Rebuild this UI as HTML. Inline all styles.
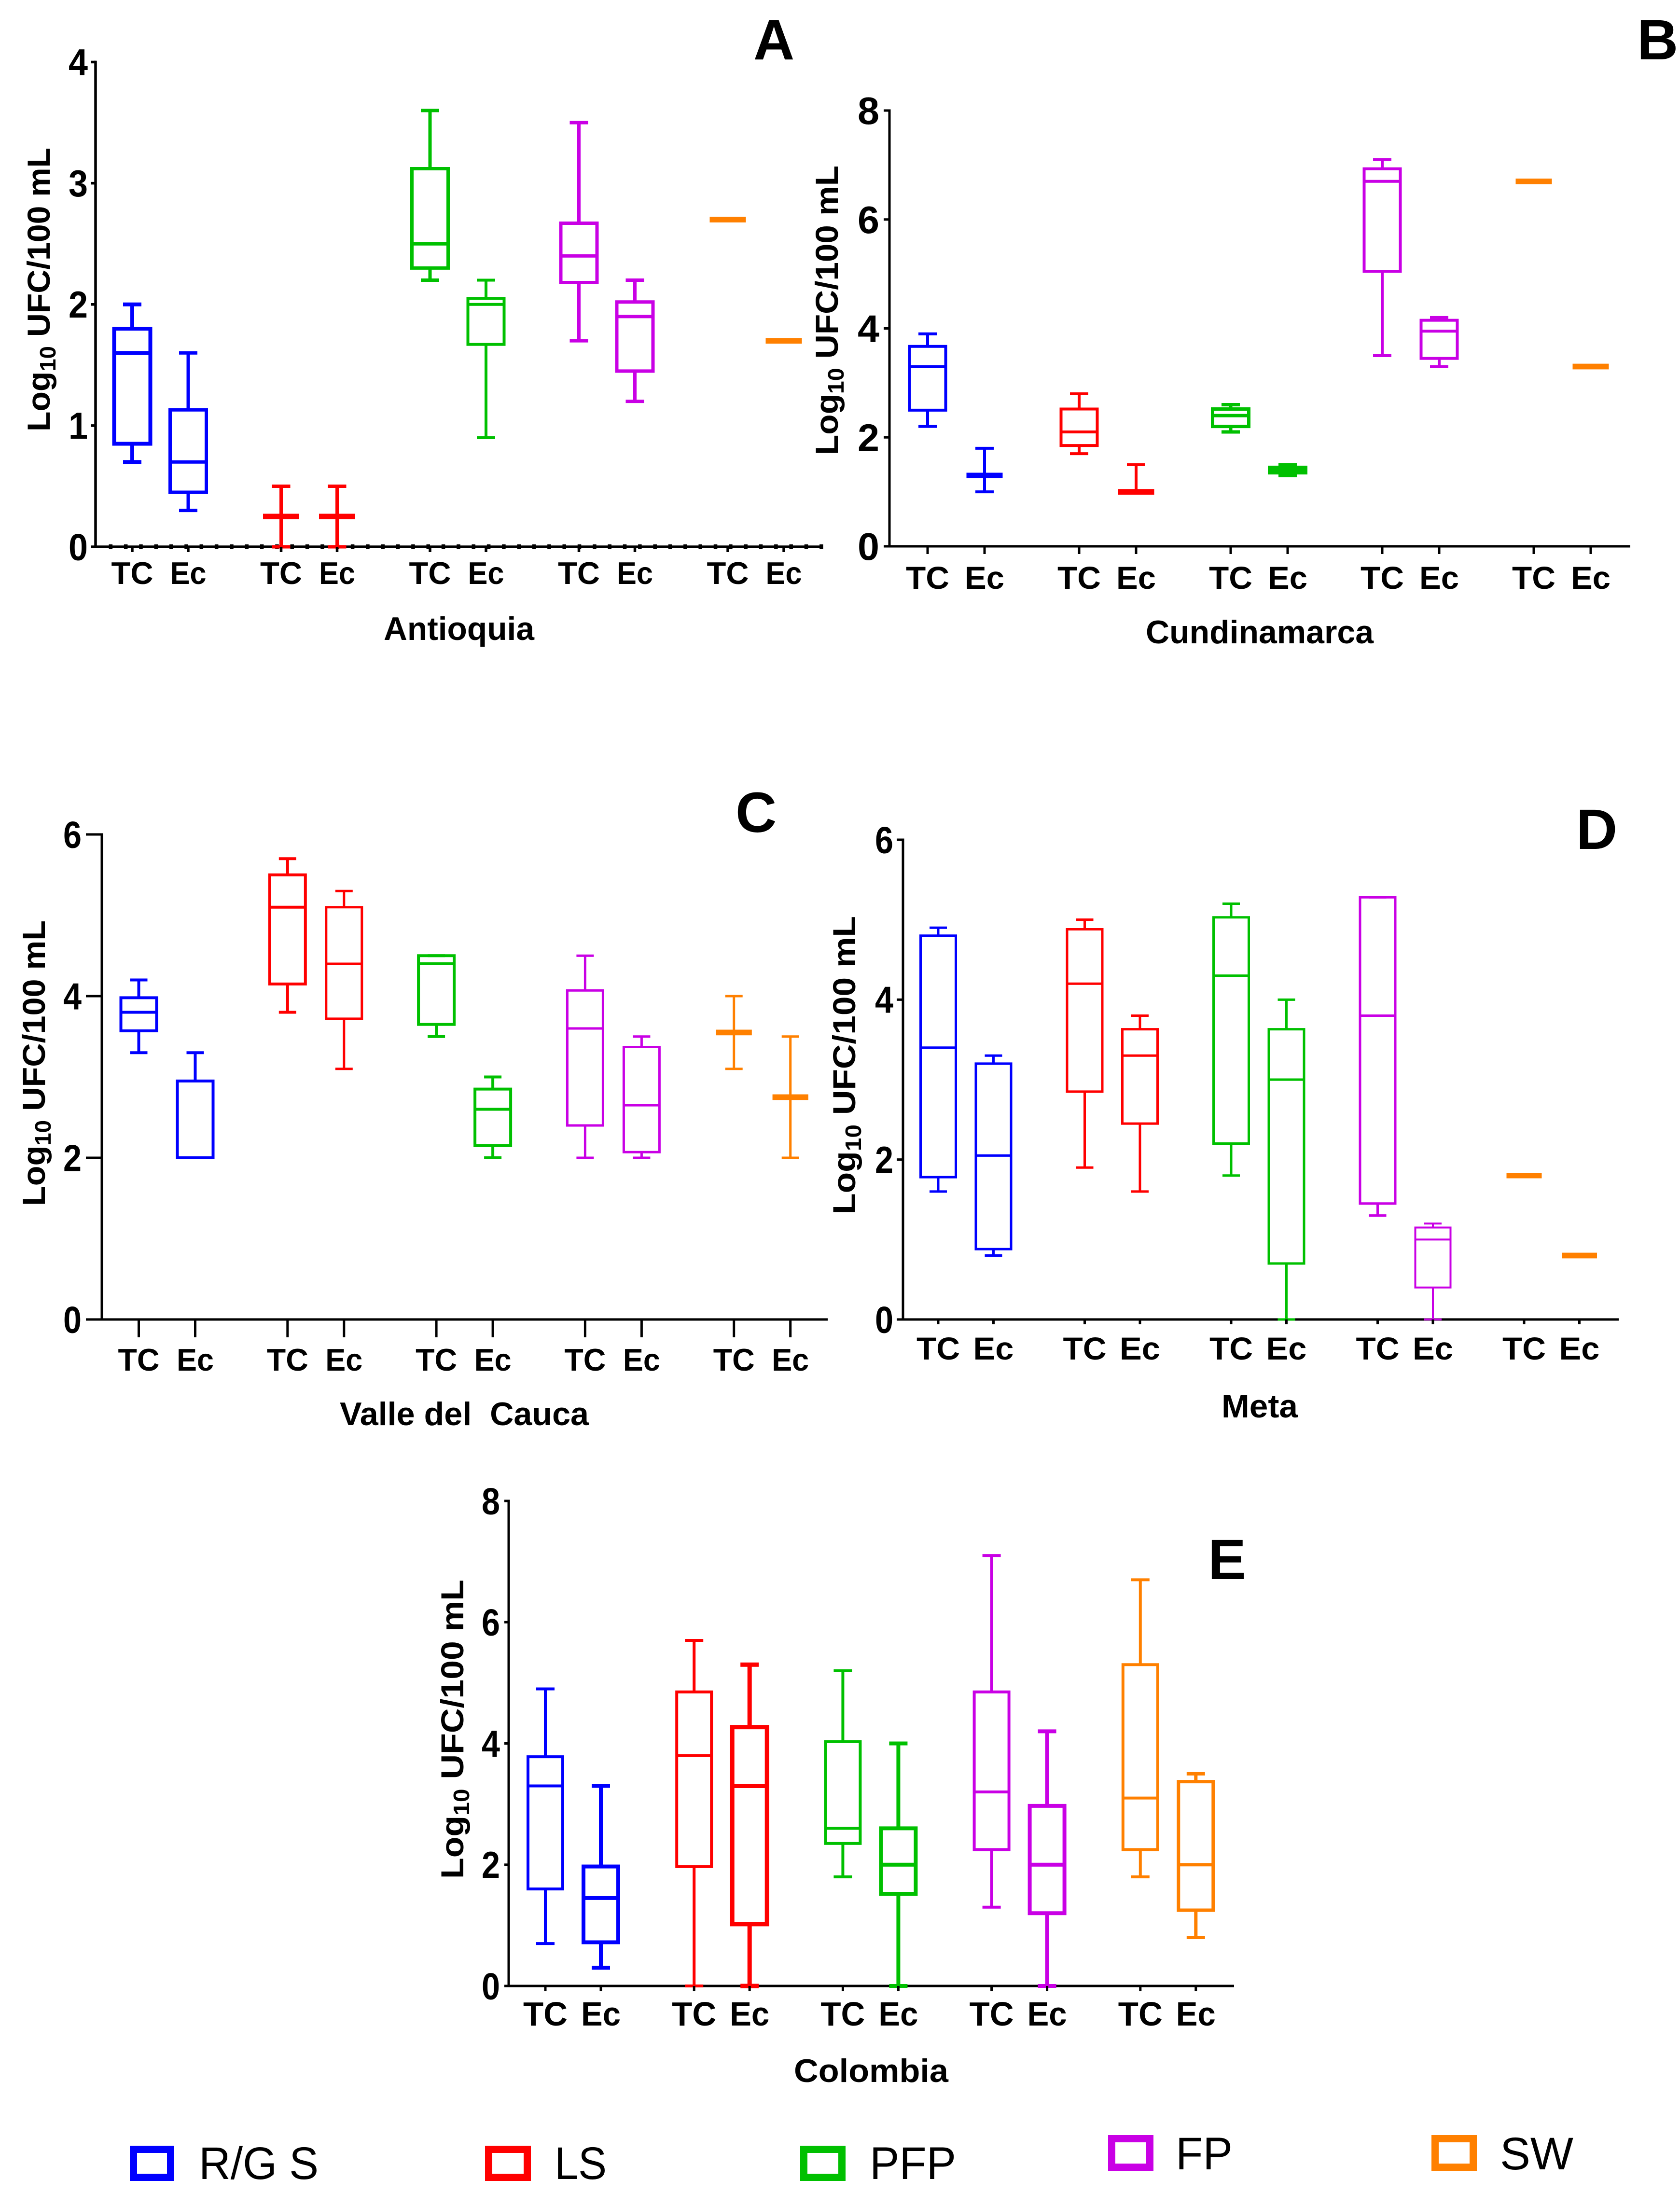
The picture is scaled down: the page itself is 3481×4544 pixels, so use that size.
<!DOCTYPE html>
<html lang="es">
<head>
<meta charset="utf-8">
<title>Log10 UFC/100 mL by region</title>
<style>
html,body{margin:0;padding:0;background:#fff;width:3481px;height:4544px;overflow:hidden}
svg{display:block}
text{font-family:"Liberation Sans",Arial,sans-serif}
.b{font-weight:bold;fill:#000}
.leg{font-weight:normal;fill:#000;font-size:95px}
.letter{font-weight:bold;font-size:118px;fill:#000}
.ytitle{font-weight:bold;font-size:66px;fill:#000}
.xtitle{font-weight:bold;font-size:68px;fill:#000;text-anchor:middle}
</style>
</head>
<body>
<svg id="figure" xmlns="http://www.w3.org/2000/svg" width="3481" height="4544" viewBox="0 0 3481 4544">
  <rect x="0" y="0" width="3481" height="4544" fill="#fff"/>

  <text class="letter" x="1561" y="123">A</text>
  <text class="letter" x="3392" y="123">B</text>
  <text class="letter" x="1524" y="1724">C</text>
  <text class="letter" x="3266" y="1759">D</text>
  <text class="letter" x="2503" y="3272">E</text>

  <text class="ytitle" transform="translate(103,600) rotate(-90)" text-anchor="middle" textLength="588" lengthAdjust="spacingAndGlyphs">Log<tspan font-size="46" dy="12">10</tspan><tspan dy="-12"> UFC/100 mL</tspan></text>
  <text class="ytitle" transform="translate(1736,643) rotate(-90)" text-anchor="middle" textLength="600" lengthAdjust="spacingAndGlyphs">Log<tspan font-size="46" dy="12">10</tspan><tspan dy="-12"> UFC/100 mL</tspan></text>
  <text class="ytitle" transform="translate(93,2203) rotate(-90)" text-anchor="middle" textLength="592" lengthAdjust="spacingAndGlyphs">Log<tspan font-size="46" dy="12">10</tspan><tspan dy="-12"> UFC/100 mL</tspan></text>
  <text class="ytitle" transform="translate(1772,2207) rotate(-90)" text-anchor="middle" textLength="618" lengthAdjust="spacingAndGlyphs">Log<tspan font-size="46" dy="12">10</tspan><tspan dy="-12"> UFC/100 mL</tspan></text>
  <text class="ytitle" transform="translate(960,3583) rotate(-90)" text-anchor="middle" textLength="620" lengthAdjust="spacingAndGlyphs">Log<tspan font-size="46" dy="12">10</tspan><tspan dy="-12"> UFC/100 mL</tspan></text>

  <text class="xtitle" x="951" y="1326" textLength="312" lengthAdjust="spacingAndGlyphs">Antioquia</text>
  <text class="xtitle" x="2610" y="1333" textLength="472" lengthAdjust="spacingAndGlyphs">Cundinamarca</text>
  <text class="xtitle" x="962" y="2953" textLength="516" lengthAdjust="spacingAndGlyphs" xml:space="preserve">Valle del  Cauca</text>
  <text class="xtitle" x="2610" y="2937" textLength="158" lengthAdjust="spacingAndGlyphs">Meta</text>
  <text class="xtitle" x="1805" y="4314" textLength="320" lengthAdjust="spacingAndGlyphs">Colombia</text>

  <g>
    <rect x="276.5" y="4453.5" width="77" height="58" fill="none" stroke="#0000ff" stroke-width="15"/>
    <text class="leg" x="412" y="4515" textLength="248" lengthAdjust="spacingAndGlyphs">R/G S</text>
    <rect x="1012.5" y="4453.5" width="80" height="58" fill="none" stroke="#ff0000" stroke-width="15"/>
    <text class="leg" x="1149" y="4515" textLength="108" lengthAdjust="spacingAndGlyphs">LS</text>
    <rect x="1665.5" y="4453.5" width="79" height="58" fill="none" stroke="#00c000" stroke-width="15"/>
    <text class="leg" x="1802" y="4515" textLength="179" lengthAdjust="spacingAndGlyphs">PFP</text>
    <rect x="2303.5" y="4431.5" width="79" height="59" fill="none" stroke="#c900e5" stroke-width="15"/>
    <text class="leg" x="2436" y="4495" textLength="118" lengthAdjust="spacingAndGlyphs">FP</text>
    <rect x="2973.5" y="4431.5" width="79" height="59" fill="none" stroke="#ff8000" stroke-width="15"/>
    <text class="leg" x="3108" y="4495" textLength="152" lengthAdjust="spacingAndGlyphs">SW</text>
  </g>
  <g id="charts"></g>
</svg>

<script>
// Order of every series array: R/G S TC, R/G S Ec, LS TC, LS Ec, PFP TC, PFP Ec, FP TC, FP Ec, SW TC, SW Ec
const categories = ['TC','Ec','TC','Ec','TC','Ec','TC','Ec','TC','Ec'];
const sourceNames = ['rgs','rgs','ls','ls','pfp','pfp','fp','fp','sw','sw'];

// Panel A - Antioquia
const antioquiaMin = [0.7,0.3,0,0,2.2,0.9,1.7,1.2,2.7,1.7];
const antioquiaQ1  = [0.85,0.45,0.25,0.25,2.3,1.67,2.18,1.45,2.7,1.7];
const antioquiaMed = [1.6,0.7,0.25,0.25,2.5,2.0,2.4,1.9,2.7,1.7];
const antioquiaQ3  = [1.8,1.13,0.25,0.25,3.12,2.05,2.67,2.02,2.7,1.7];
const antioquiaMax = [2.0,1.6,0.5,0.5,3.6,2.2,3.5,2.2,2.7,1.7];
const antioquiaTicks = [0,1,2,3,4];

// Panel B - Cundinamarca
const cundinamarcaMin = [2.2,1,1.7,1,2.1,1.3,3.5,3.3,6.7,3.3];
const cundinamarcaQ1  = [2.5,1.3,1.85,1,2.2,1.35,5.05,3.45,6.7,3.3];
const cundinamarcaMed = [3.3,1.3,2.1,1,2.4,1.4,6.7,3.95,6.7,3.3];
const cundinamarcaQ3  = [3.67,1.3,2.52,1,2.52,1.45,6.93,4.15,6.7,3.3];
const cundinamarcaMax = [3.9,1.8,2.8,1.5,2.6,1.5,7.1,4.2,6.7,3.3];
const cundinamarcaTicks = [0,2,4,6,8];

// Panel C - Valle del Cauca
const valleMin = [3.3,2,3.8,3.1,3.5,2,2,2,3.1,2];
const valleQ1  = [3.57,2,4.15,3.72,3.65,2.15,2.4,2.07,3.55,2.75];
const valleMed = [3.8,2,5.1,4.4,4.4,2.6,3.6,2.65,3.55,2.75];
const valleQ3  = [3.98,2.95,5.5,5.1,4.5,2.85,4.07,3.37,3.55,2.75];
const valleMax = [4.2,3.3,5.7,5.3,4.5,3,4.5,3.5,4,3.5];
const valleTicks = [0,2,4,6];

// Panel D - Meta
const metaMin = [1.6,0.8,1.9,1.6,1.8,0,1.3,0,1.8,0.8];
const metaQ1  = [1.78,0.88,2.85,2.45,2.2,0.7,1.45,0.4,1.8,0.8];
const metaMed = [3.4,2.05,4.2,3.3,4.3,3,3.8,1,1.8,0.8];
const metaQ3  = [4.8,3.2,4.88,3.63,5.03,3.63,5.28,1.15,1.8,0.8];
const metaMax = [4.9,3.3,5,3.8,5.2,4,5.28,1.2,1.8,0.8];
const metaTicks = [0,2,4,6];

// Panel E - Colombia
const colombiaMin = [0.7,0.3,0,0,1.8,0,1.3,0,1.8,0.8];
const colombiaQ1  = [1.6,0.72,1.97,1.02,2.35,1.52,2.25,1.2,2.25,1.25];
const colombiaMed = [3.3,1.45,3.8,3.3,2.6,2,3.2,2,3.1,2];
const colombiaQ3  = [3.78,1.97,4.85,4.27,4.03,2.6,4.85,2.97,5.3,3.37];
const colombiaMax = [4.9,3.3,5.7,5.3,5.2,4,7.1,4.2,6.7,3.5];
const colombiaTicks = [0,2,4,6,8];

const sourceColors = {rgs:'#0000ff',ls:'#ff0000',pfp:'#00c000',fp:'#c900e5',sw:'#ff8000'};
const NS = 'http://www.w3.org/2000/svg';
const chartsRoot = document.getElementById('charts');
const COLLAPSED_WIDTH = 11.5;

function addLine(parent,x1,y1,x2,y2,color,width){
  const l = document.createElementNS(NS,'line');
  l.setAttribute('x1',x1); l.setAttribute('y1',y1);
  l.setAttribute('x2',x2); l.setAttribute('y2',y2);
  l.setAttribute('stroke',color); l.setAttribute('stroke-width',width);
  parent.appendChild(l);
  return l;
}
function addLabel(parent,x,y,str,size,anchor,len){
  const t = document.createElementNS(NS,'text');
  t.setAttribute('x',x); t.setAttribute('y',y);
  t.setAttribute('class','b');
  t.setAttribute('font-size',size);
  t.setAttribute('text-anchor',anchor);
  t.setAttribute('textLength',len);
  t.setAttribute('lengthAdjust','spacingAndGlyphs');
  t.textContent = str;
  parent.appendChild(t);
  return t;
}

function drawPanel(cfg, yMax, yTicks, vMin, vQ1, vMed, vQ3, vMax){
  const g = document.createElementNS(NS,'g');
  
  
  chartsRoot.appendChild(g);

  const yScale = v => cfg.y0 - (v / yMax) * (cfg.y0 - cfg.yTop);
  const xScale = i => cfg.x0 + cfg.firstOffset + Math.floor(i/2)*cfg.groupStep + (i%2)*cfg.pairStep;

  // axes
  const yAxis = addLine(g,cfg.ax,cfg.yTop-cfg.axw/2,cfg.ax,cfg.y0+cfg.axw/2,'#000',cfg.axw);
  
  
  const xAxis = addLine(g,cfg.ax,cfg.y0,cfg.xEnd,cfg.y0,'#000',cfg.axw);
  
  

  // y ticks and labels
  yTicks.forEach(v => {
    const y = yScale(v);
    const tick = addLine(g,cfg.ax-cfg.ytl,y,cfg.ax,y,'#000',cfg.axw);
    
    
    const lab = addLabel(g,cfg.yLabelX,y+cfg.yFont*0.35,String(v),cfg.yFont,'end',cfg.yLabelW);
    
    
  });

  // minor tick dots along the x axis of panel A
  if(cfg.minorStep){
    for(let mx = cfg.ax + cfg.minorStep; mx < cfg.xEnd; mx += cfg.minorStep){
      const m = addLine(g,mx,cfg.y0-5,mx,cfg.y0+5,'#000',7.5);
      
      
    }
  }

  categories.forEach((cat,i) => {
    const x = xScale(i);
    const color = sourceColors[sourceNames[i]];
    const sw = cfg.strokes[i];
    const box = document.createElementNS(NS,'g');
    
    
    g.appendChild(box);

    const tick = addLine(g,x,cfg.y0,x,cfg.y0+cfg.xtl,'#000',cfg.axw);
    
    
    const lab = addLabel(g,x,cfg.xLabelY,cat,cfg.xFont,'middle',cat==='TC'?cfg.tcW:cfg.ecW);
    
    

    const yLo = yScale(vMin[i]), yHi = yScale(vMax[i]);
    const y1 = yScale(vQ1[i]), y3 = yScale(vQ3[i]), ym = yScale(vMed[i]);
    const hw = cfg.boxW/2, cap = cfg.capW/2;
    const collapsed = vQ1[i] === vQ3[i];
    const boxStroke = collapsed ? COLLAPSED_WIDTH : sw;

    if(vMax[i] !== vMin[i]){
      const w1 = addLine(box,x,yHi,x,y3,color,sw);
      
      
      const w2 = addLine(box,x,y1,x,yLo,color,sw);
      
      
      const c1 = addLine(box,x-cap,yHi,x+cap,yHi,color,sw);
      
      
      const c2 = addLine(box,x-cap,yLo,x+cap,yLo,color,sw);
      
      
    }
    const p = document.createElementNS(NS,'path');
    p.setAttribute('d',`M${x-hw} ${y3}H${x+hw}V${y1}H${x-hw}Z`);
    p.setAttribute('fill','none');
    p.setAttribute('stroke',color);
    p.setAttribute('stroke-width',boxStroke);
    
    
    box.appendChild(p);
    const med = addLine(box,x-hw,ym,x+hw,ym,color,boxStroke);
    
    
  });
}

drawPanel({id:'antioquia',ax:198,x0:198,xEnd:1704,y0:1133,yTop:128.5,firstOffset:76,groupStep:308.5,pairStep:116,boxW:75,capW:38,axw:5.5,ytl:10,xtl:11,yFont:78,yLabelX:182,yLabelW:40,xFont:65,xLabelY:1210,tcW:87,ecW:75,minorStep:31.33,strokes:[8,7,7,7,7,6,7,7,5.5,5.5]},
  4,antioquiaTicks,antioquiaMin,antioquiaQ1,antioquiaMed,antioquiaQ3,antioquiaMax);

drawPanel({id:'cundinamarca',ax:1843,x0:1843,xEnd:3378,y0:1132,yTop:229,firstOffset:79,groupStep:314,pairStep:118,boxW:75,capW:38,axw:5,ytl:12,xtl:16,yFont:80,yLabelX:1822,yLabelW:45,xFont:66,xLabelY:1220,tcW:90,ecW:82,minorStep:0,strokes:[6,6,6,6,7,7,6,6,5.5,5.5]},
  8,cundinamarcaTicks,cundinamarcaMin,cundinamarcaQ1,cundinamarcaMed,cundinamarcaQ3,cundinamarcaMax);

drawPanel({id:'valle-del-cauca',ax:211,x0:211,xEnd:1715,y0:2734,yTop:1729,firstOffset:76.5,groupStep:308.3,pairStep:117,boxW:74,capW:36,axw:5,ytl:33,xtl:37,yFont:78,yLabelX:169,yLabelW:38,xFont:65,xLabelY:2840,tcW:86,ecW:77,minorStep:0,strokes:[6,6,6,5,6,6,5,5,5,5]},
  6,valleTicks,valleMin,valleQ1,valleMed,valleQ3,valleMax);

drawPanel({id:'meta',ax:1871,x0:1871,xEnd:3354,y0:2734,yTop:1740,firstOffset:73,groupStep:303.5,pairStep:114.5,boxW:73,capW:36,axw:5,ytl:13,xtl:10,yFont:78,yLabelX:1851,yLabelW:38,xFont:66,xLabelY:2817,tcW:90,ecW:84,minorStep:0,strokes:[5,5,5,5,5,5,5,4,6,6]},
  6,metaTicks,metaMin,metaQ1,metaMed,metaQ3,metaMax);

drawPanel({id:'colombia',ax:1054,x0:1054,xEnd:2557,y0:4115,yTop:3110,firstOffset:76,groupStep:308.2,pairStep:115,boxW:72,capW:38,axw:5,ytl:9,xtl:11,yFont:78,yLabelX:1036,yLabelW:38,xFont:70,xLabelY:4197,tcW:92,ecW:82,minorStep:0,strokes:[6,8,6,9,6,8,6,8,6,7]},
  8,colombiaTicks,colombiaMin,colombiaQ1,colombiaMed,colombiaQ3,colombiaMax);
</script>
</body>
</html>
